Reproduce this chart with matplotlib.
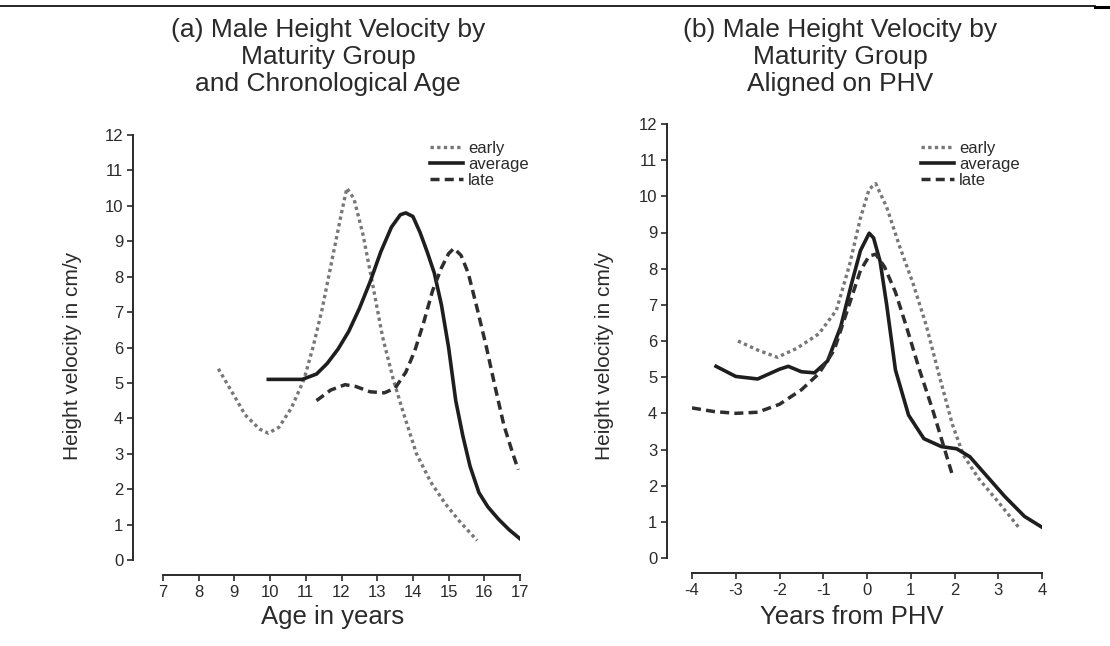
"""Male height velocity curves by maturity group (two panels)."""

import matplotlib

matplotlib.use("Agg")
import matplotlib.pyplot as plt
from matplotlib.lines import Line2D

# panel (a): chronological age
age_early = [8.55, 8.9, 9.3, 9.7, 9.95, 10.25, 10.6, 10.95, 11.2, 11.45, 11.75, 12.0,
             12.15, 12.35, 12.6, 12.85, 13.15, 13.45, 13.75, 14.1, 14.5, 14.9, 15.3, 15.8]
hv_early = [5.4, 4.8, 4.1, 3.7, 3.58, 3.75, 4.3, 5.1, 6.0, 7.05, 8.55, 9.8,
            10.5, 10.2, 9.2, 7.9, 6.3, 5.1, 4.1, 3.0, 2.2, 1.6, 1.1, 0.55]
age_avg = [9.95, 10.4, 10.9, 11.3, 11.6, 11.9, 12.2, 12.5, 12.8, 13.1, 13.4, 13.65, 13.8,
           14.0, 14.2, 14.4, 14.6, 14.8, 15.0, 15.2, 15.4, 15.6, 15.85, 16.1, 16.4, 16.7, 17.0]
hv_avg = [5.1, 5.1, 5.1, 5.25, 5.55, 5.95, 6.45, 7.1, 7.85, 8.7, 9.4, 9.75, 9.8,
          9.7, 9.25, 8.7, 8.1, 7.2, 6.0, 4.5, 3.5, 2.65, 1.9, 1.5, 1.15, 0.85, 0.6]
age_late = [11.3, 11.7, 12.1, 12.4, 12.8, 13.2, 13.5, 13.8, 14.05, 14.3, 14.55, 14.8, 15.0,
            15.15, 15.35, 15.55, 15.8, 16.05, 16.3, 16.55, 16.8, 16.95]
hv_late = [4.5, 4.8, 4.95, 4.9, 4.75, 4.72, 4.85, 5.3, 5.9, 6.7, 7.6, 8.25, 8.65,
           8.8, 8.6, 8.1, 7.1, 6.05, 4.9, 3.8, 3.0, 2.55]

# panel (b): aligned on PHV
phv_early = [-2.95, -2.5, -2.05, -1.6, -1.1, -0.7, -0.4, -0.15, 0.05, 0.2, 0.45, 0.75,
             1.05, 1.35, 1.65, 1.95, 2.2, 2.55, 3.0, 3.5]
phv_hv_early = [6.0, 5.75, 5.55, 5.8, 6.2, 6.85, 8.1, 9.4, 10.2, 10.35, 9.7, 8.6,
                7.6, 6.45, 5.05, 3.7, 2.85, 2.2, 1.55, 0.8]
phv_avg = [-3.45, -3.0, -2.5, -2.0, -1.8, -1.5, -1.2, -0.9, -0.6, -0.35, -0.15, 0.05, 0.15,
           0.3, 0.45, 0.65, 0.95, 1.3, 1.7, 2.05, 2.35, 2.75, 3.15, 3.6, 4.0]
phv_hv_avg = [5.3, 5.02, 4.95, 5.22, 5.3, 5.15, 5.12, 5.45, 6.4, 7.6, 8.5, 8.98, 8.85,
              8.2, 7.0, 5.2, 3.95, 3.3, 3.08, 3.02, 2.8, 2.25, 1.7, 1.15, 0.85]
phv_late = [-4.0, -3.5, -3.0, -2.5, -2.0, -1.5, -1.1, -0.75, -0.45, -0.15, 0.05, 0.2,
            0.4, 0.65, 0.9, 1.2, 1.5, 1.75, 1.95]
phv_hv_late = [4.15, 4.05, 4.0, 4.03, 4.25, 4.65, 5.1, 5.75, 6.85, 7.95, 8.35, 8.4,
               8.05, 7.35, 6.4, 5.2, 4.1, 3.1, 2.3]

titles = ["(a) Male Height Velocity by\nMaturity Group\nand Chronological Age",
          "(b) Male Height Velocity by\nMaturity Group\nAligned on PHV"]
xlabels = ["Age in years", "Years from PHV"]
ylabel = "Height velocity in cm/y"
groups = ["early", "average", "late"]

INK = "#2a2a2a"
W, H = 1110, 646


def style_axes(ax, xlo, xhi, yspine_px, xspine_px):
    ax.set_ylim(0, 12)
    ax.set_xlim(xlo, xhi)
    ax.set_yticks(range(0, 13))
    ax.set_xticks(range(xlo, xhi + 1))
    for s in ("top", "right"):
        ax.spines[s].set_visible(False)
    ax.spines["left"].set_position(("outward", yspine_px * 0.72))
    ax.spines["bottom"].set_position(("outward", xspine_px * 0.72))
    ax.spines["left"].set_bounds(0, 12)
    ax.spines["bottom"].set_bounds(xlo, xhi)
    for s in ("left", "bottom"):
        ax.spines[s].set_color(INK)
        ax.spines[s].set_linewidth(1.4)
    ax.tick_params(direction="out", length=4, width=1.2, color=INK,
                   labelsize=12, labelcolor=INK, pad=3)
    ax.patch.set_visible(False)


def draw(ax, xs, ys):
    ax.plot(xs[0], ys[0], color="#777777", lw=2.4, ls=(0, (1.0, 1.0)), label=groups[0])
    ax.plot(xs[1], ys[1], color="#1e1e1e", lw=2.6, ls="-", label=groups[1])
    ax.plot(xs[2], ys[2], color="#2e2e2e", lw=2.5, ls=(0, (2.6, 1.5)), label=groups[2])


def main() -> None:
    plt.rcParams["font.family"] = ["Liberation Sans", "DejaVu Sans"]
    plt.rcParams["axes.unicode_minus"] = False
    fig = plt.figure(figsize=(W / 100, H / 100), dpi=100)

    ax1 = fig.add_axes([163 / W, 1 - 560 / H, 357 / W, 425 / H])
    ax2 = fig.add_axes([692 / W, 1 - 558 / H, 350 / W, 434 / H])

    draw(ax1, [age_early, age_avg, age_late], [hv_early, hv_avg, hv_late])
    draw(ax2, [phv_early, phv_avg, phv_late], [phv_hv_early, phv_hv_avg, phv_hv_late])
    style_axes(ax1, 7, 17, 30, 15)
    style_axes(ax2, -4, 4, 25, 15)

    for ax, leg_xy in ((ax1, (430, 141)), (ax2, (921, 141))):
        ax.legend(loc="upper left", bbox_to_anchor=(leg_xy[0] / W, 1 - leg_xy[1] / H),
                  bbox_transform=fig.transFigure, frameon=False, fontsize=12,
                  handlelength=2.0, handletextpad=0.3, labelspacing=0.05,
                  borderpad=0, borderaxespad=0, labelcolor=INK)

    for title, xl, tx, lx, yx in ((titles[0], xlabels[0], 328, 333, 72),
                                  (titles[1], xlabels[1], 840, 852, 605)):
        fig.text(tx / W, 1 - 18 / H, title, ha="center", va="top",
                 fontsize=19, color=INK, linespacing=1.17)
        fig.text(lx / W, 1 - 617 / H, xl, ha="center", va="center",
                 fontsize=18.5, color=INK)
        fig.text(yx / W, 1 - 356 / H, ylabel, ha="center", va="center",
                 rotation=90, fontsize=15, color=INK)

    # page rule along the top edge
    fig.add_artist(Line2D([0, 1095 / W], [1 - 6 / H] * 2, color="black", lw=1.2,
                          transform=fig.transFigure))
    fig.add_artist(Line2D([1095 / W, 1], [1 - 7 / H] * 2, color="black", lw=2.2,
                          transform=fig.transFigure))

    fig.savefig("out.png", dpi=100, facecolor="white")


if __name__ == "__main__":
    main()
